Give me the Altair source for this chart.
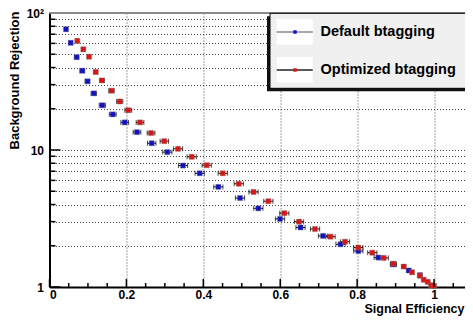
import altair as alt
import pandas as pd

# ---------------- data ----------------
series_names = ["Default btagging", "Optimized btagging"]
series_colors = ["#1212c4", "#dc1414"]
legend_line_colors = ["#8a8a8a", "#222222"]

default_eff = [0.0429, 0.0551, 0.0707, 0.0853, 0.0988, 0.1152, 0.1373, 0.1644, 0.1956,
               0.2276, 0.2658, 0.3064, 0.3472, 0.3906, 0.4390, 0.4954, 0.5431, 0.5995,
               0.6528, 0.7113, 0.7568, 0.8031, 0.8551, 0.8942, 0.9342, 0.9636]
default_rej = [76.1, 60.6, 47.6, 37.9, 31.7, 25.9, 21.2, 18.2, 15.9,
               13.5, 11.2, 9.65, 7.70, 6.76, 5.38, 4.46, 3.75, 3.14,
               2.72, 2.36, 2.05, 1.83, 1.64, 1.46, 1.32, 1.22]
default_err = [0.002, 0.004, 0.005, 0.006, 0.006, 0.007, 0.008, 0.009, 0.010,
               0.010, 0.011, 0.012, 0.012, 0.012, 0.012, 0.012, 0.012, 0.012,
               0.012, 0.012, 0.012, 0.012, 0.011, 0.008, 0.005, 0.003]

opt_eff = [0.0723, 0.0879, 0.1027, 0.1202, 0.1365, 0.1612, 0.1826, 0.2049, 0.2354,
           0.2640, 0.2986, 0.3342, 0.3698, 0.4088, 0.4505, 0.4921, 0.5306, 0.5691,
           0.6107, 0.6489, 0.6905, 0.7308, 0.7685, 0.8031, 0.8395, 0.8692, 0.8942,
           0.9212, 0.9428, 0.9628, 0.9732, 0.9836, 0.9922, 1.0]
opt_rej = [62.6, 54.3, 48.0, 37.1, 32.2, 27.1, 22.6, 19.5, 15.9,
           13.3, 11.6, 10.2, 8.92, 7.74, 6.76, 5.67, 4.94, 4.23,
           3.46, 3.00, 2.65, 2.33, 2.14, 1.94, 1.78, 1.63, 1.48,
           1.41, 1.28, 1.21, 1.13, 1.09, 1.03, 1.02]
opt_err = [0.002, 0.003, 0.004, 0.005, 0.006, 0.007, 0.008, 0.009, 0.010,
           0.010, 0.011, 0.012, 0.012, 0.012, 0.012, 0.012, 0.012, 0.012,
           0.012, 0.012, 0.012, 0.012, 0.012, 0.012, 0.012, 0.012, 0.007,
           0.005, 0.004, 0.003, 0.002, 0.002, 0.002, 0.002]

x_major = [0, 0.2, 0.4, 0.6, 0.8, 1.0]
x_minor = [0.05, 0.1, 0.15, 0.25, 0.3, 0.35, 0.45, 0.5, 0.55, 0.65, 0.7, 0.75,
           0.85, 0.9, 0.95, 1.05]
y_major = [1, 10, 100]
y_minor = [2, 3, 4, 5, 6, 7, 8, 9, 20, 30, 40, 50, 60, 70, 80, 90]
y_all = [1, 2, 3, 4, 5, 6, 7, 8, 9, 10, 20, 30, 40, 50, 60, 70, 80, 90, 100]

W, H = 423, 274
TOP = 5
RIGHT_CLIP = -7.5  # the frame runs off the right edge of the picture
FONT = "Liberation Sans"

rows = []
for name, xs, ys, es in [(series_names[0], default_eff, default_rej, default_err),
                         (series_names[1], opt_eff, opt_rej, opt_err)]:
    for x, y, e in zip(xs, ys, es):
        rows.append({"series": name, "eff": x, "rej": y, "lo": x - e, "hi": x + e})
df = pd.DataFrame(rows)

xscale = alt.Scale(domain=[0, 1.1], nice=False, zero=False)
yscale = alt.Scale(type="log", domain=[1, 100], nice=False)
cscale = alt.Scale(domain=series_names, range=series_colors)

xaxis = alt.Axis(values=x_major, labelExpr="format(datum.value, '.1~f')", ticks=False,
                 domainColor="black", domainWidth=2, grid=True, gridDash=[1, 2],
                 gridColor="#333333", gridOpacity=0.9,
                 labelFont=FONT, labelFontWeight="bold", labelFontSize=12, labelColor="black",
                 labelPadding=2, title="Signal Efficiency", titleFont=FONT,
                 titleFontWeight="bold", titleFontSize=12.5, titleColor="black",
                 titleX=W + RIGHT_CLIP - 1, titleY=25.5, titleAlign="right",
                 titleBaseline="alphabetic")
yaxis = alt.Axis(values=y_all,
                 labelExpr="datum.value == 100 ? '10²' : (datum.value == 10 ? '10' : (datum.value == 1 ? '1' : ''))",
                 ticks=False, domainColor="black", domainWidth=2, grid=True, gridDash=[1, 2],
                 gridColor="#333333", gridOpacity=0.9,
                 labelFont=FONT, labelFontWeight="bold", labelFontSize=12, labelColor="black",
                 labelPadding=6, title="Background Rejection", titleFont=FONT,
                 titleFontWeight="bold", titleFontSize=13, titleColor="black",
                 titleX=-28, titleY=-2, titleAngle=-90, titleAlign="right", titleBaseline="bottom")


def X(field):
    return alt.X(field, scale=xscale, axis=xaxis, title="Signal Efficiency")


def Y(field):
    return alt.Y(field, scale=yscale, axis=yaxis, title="Background Rejection")


base = alt.Chart(df)

errbars = base.mark_rule(color="black", strokeWidth=1).encode(
    x=X("lo:Q"), x2="hi:Q", y=Y("rej:Q"))
cap_lo = base.mark_tick(orient="vertical", size=5, thickness=1, color="black").encode(
    x=X("lo:Q"), y=Y("rej:Q"))
cap_hi = base.mark_tick(orient="vertical", size=5, thickness=1, color="black").encode(
    x=X("hi:Q"), y=Y("rej:Q"))
points = base.mark_square(size=26, opacity=1, stroke="#777777", strokeWidth=0.4).encode(
    x=X("eff:Q"), y=Y("rej:Q"),
    color=alt.Color("series:N", scale=cscale, legend=None),
    order=alt.Order("series:N"),
)

# inward ticks
ymaj = alt.Chart(pd.DataFrame({"v": y_major})).mark_rule(color="black", strokeWidth=1.5).encode(
    y=Y("v:Q"), x=alt.value(0), x2=alt.value(11))
ymin = alt.Chart(pd.DataFrame({"v": y_minor})).mark_rule(color="black", strokeWidth=1.5).encode(
    y=Y("v:Q"), x=alt.value(0), x2=alt.value(6))
xmaj = alt.Chart(pd.DataFrame({"v": x_major})).mark_rule(color="black", strokeWidth=1.5).encode(
    x=X("v:Q"), y=alt.value(H), y2=alt.value(H - 8))
xmin = alt.Chart(pd.DataFrame({"v": x_minor})).mark_rule(color="black", strokeWidth=1.5).encode(
    x=X("v:Q"), y=alt.value(H), y2=alt.value(H - 4))
topline = alt.Chart(pd.DataFrame({"v": [0]})).mark_rule(color="#8a8a8a", strokeWidth=2).encode(
    x=alt.value(0), x2=alt.value(W), y=alt.value(0))

# legend box
one = pd.DataFrame({"v": [0]})
shadow = alt.Chart(one).mark_rect(color="#111111").encode(
    x=alt.value(217.5), x2=alt.value(440), y=alt.value(3.3), y2=alt.value(78.3))
box = alt.Chart(one).mark_rect(fill="#f0f0f0", stroke="black", strokeWidth=1).encode(
    x=alt.value(220.5), x2=alt.value(440), y=alt.value(0.3), y2=alt.value(75.3))
legend_layers = [shadow, box]
for i, (name, col, lcol) in enumerate(zip(series_names, series_colors, legend_line_colors)):
    yc = 19 + 38 * i
    d = pd.DataFrame({"name": [name]})
    legend_layers.append(alt.Chart(d).mark_rect(fill="white").encode(
        x=alt.value(227.2), x2=alt.value(263.2), y=alt.value(yc - 13), y2=alt.value(yc + 12.5)))
    legend_layers.append(alt.Chart(d).mark_rule(color=lcol, strokeWidth=1.5).encode(
        x=alt.value(227.2), x2=alt.value(263.2), y=alt.value(yc)))
    legend_layers.append(alt.Chart(d).mark_square(size=12, color=col, opacity=1).encode(
        x=alt.value(245.5), y=alt.value(yc)))
    legend_layers.append(alt.Chart(d).mark_text(
        align="left", baseline="middle", font=FONT, fontWeight="bold", fontSize=14.5,
        color="black").encode(x=alt.value(271), y=alt.value(yc), text="name:N"))

chart = alt.layer(
    errbars, cap_lo, cap_hi, points, ymaj, ymin, xmaj, xmin, topline, *legend_layers
).properties(
    width=W, height=H, autosize=alt.AutoSizeParams(type="none"),
    padding={"left": 41.5, "top": TOP, "right": RIGHT_CLIP, "bottom": 308 - TOP - H},
).configure_view(stroke=None).configure(background="white")

chart.save("out.html", embed_options={"renderer": "svg", "actions": False})
